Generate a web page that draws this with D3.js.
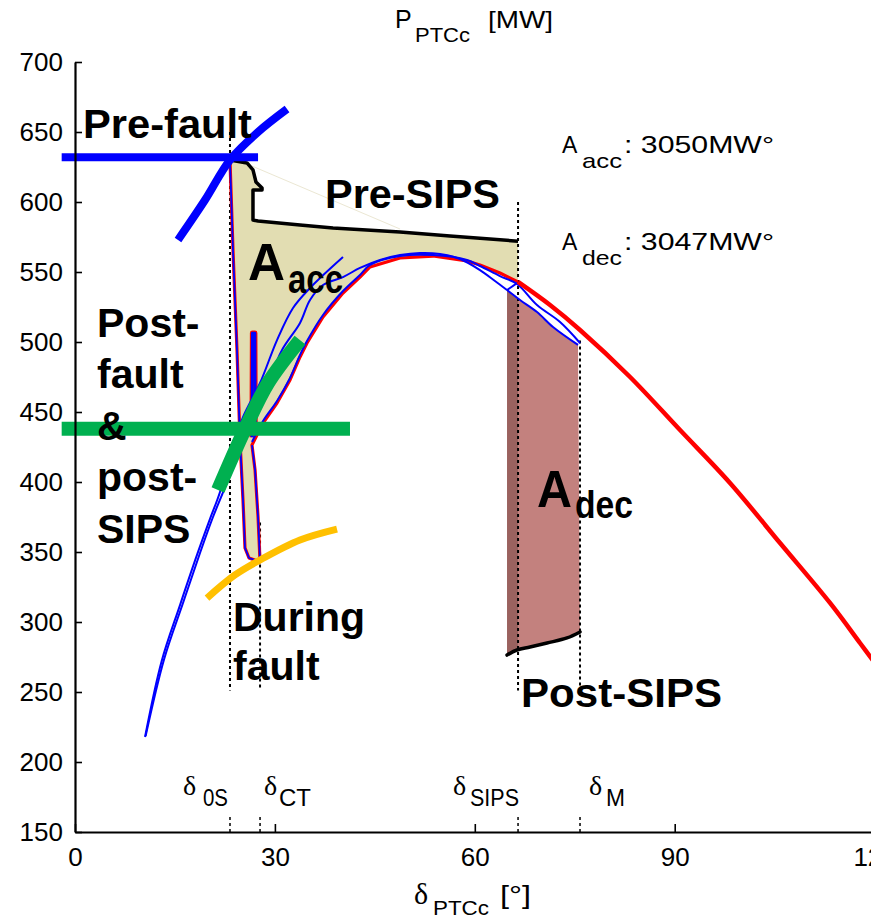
<!DOCTYPE html>
<html><head><meta charset="utf-8">
<script src="https://cdn.jsdelivr.net/npm/d3@7"></script>
<style>
html,body{margin:0;padding:0;background:#fff;}
svg{display:block;}
text{font-family:"Liberation Sans",Arial,Helvetica,sans-serif;fill:#000;}
</style></head><body>
<svg id="chart" width="871" height="918"></svg>
<script>
// ---- axis ticks ----
const xTicks = [0, 30, 60, 90, 120];
const yTicks = [150, 200, 250, 300, 350, 400, 450, 500, 550, 600, 650, 700];

// ---- characteristic angles [deg] ----
const markNames = ["0S", "CT", "SIPS", "M"];
const markAngles = [23.26, 27.77, 66.49, 75.79];
const markTops = [650, 371, 600, 501];     // MW where each dotted guide starts
const markBottom = 251;

// ---- P-delta curves: [delta deg, P MW] ----
const preFaultLevel = [[-2, 632], [27.47, 632]];
const preFaultCurve = [[15.46, 572.9], [19.51, 601.4], [23.26, 630], [27.47, 650], [31.82, 666.4]];
const postFaultLevel = [[-2, 438], [41.27, 438]];
const postFaultCurve = [[21.46, 394.3], [25.51, 437.9], [28.97, 470.7], [33.77, 501.4]];
const duringFaultCurve = [[19.81, 317.1], [24.01, 333.6], [27.77, 344.3], [33.77, 358.6], [39.32, 366.4]];

const preSIPS = [[23.26, 630], [25.81, 627.9], [26.71, 622.9], [27.16, 614.3], [28.07, 610],
  [28.07, 608.6], [26.71, 608.6], [26.71, 587.1], [27.47, 586.4], [33.77, 583.6], [38.72, 581.4],
  [48.78, 578.6], [56.28, 575.7], [66.49, 572]];
const postSIPS = [[64.84, 276.4], [66.34, 280], [68.29, 282.1], [70.84, 285], [73.84, 288.6], [75.79, 292.9]];
const preSIPSGhost = [[26.56, 625.7], [48.78, 580.7]];

// rotor swing trajectory from fault inception to SIPS action
const faultTraj = [[23.26, 630], [23.71, 565.7], [24.31, 494.3], [24.76, 430], [25.21, 387.1],
  [25.51, 352.9], [26.11, 345.7], [27.77, 342.9], [27.47, 375], [27.02, 408.6], [26.56, 426.4],
  [28.22, 442.1], [30.32, 456.4], [32.27, 472.9], [33.77, 489.3], [34.82, 499.3], [37.22, 517.9],
  [40.22, 535], [42.77, 546.4], [44.27, 553.6], [48.78, 560], [53.73, 561.4], [58.83, 557.9],
  [60.78, 555], [63.78, 549.3], [66.49, 542.9]];
const clearSpike = [[26.56, 432], [26.62, 506.4], [27.0, 506.4], [27.05, 440]];

// post-fault & post-SIPS curve beyond SIPS action
const postFaultTail = [[66.49, 542.9], [71.29, 526.4], [75.79, 508.6], [83.30, 475], [90.80, 437.1],
  [98.30, 399.3], [105.81, 356.4], [113.31, 313.6], [117.81, 285], [120, 271]];

// simulated post-fault trajectories
const blue1 = [[10.51, 217.9], [13.0, 272], [15.76, 312.1], [18.31, 347.9], [20.26, 373.6],
  [21.76, 392.9], [23.26, 419.3], [25.21, 446.4], [27.77, 470.7], [30.32, 501.4], [32.72, 524.3],
  [35.27, 538.6], [40.22, 560.7]];
const blue2 = [[10.6, 218.5], [13.35, 273], [16.21, 313.6], [18.76, 349.3], [20.71, 375],
  [22.36, 394.3], [24.16, 417.1], [26.26, 440.7], [28.52, 465.7], [31.07, 494.3], [33.77, 513.6],
  [35.27, 530], [37.22, 540.7], [40.22, 546.4], [42.77, 552.9], [45.78, 558.6], [48.78, 562.1],
  [51.78, 563.6], [54.78, 562.9], [57.78, 559.3], [60.78, 551.4], [63.03, 543.6], [64.84, 537.1],
  [66.79, 530], [69.34, 521.4], [71.74, 510.7], [75.49, 497.9]];
const blue3 = [[26.56, 428.6], [28.22, 443.6], [30.32, 457.9], [32.27, 474.3], [33.77, 490.7],
  [34.82, 500.7], [37.22, 519.3], [40.22, 536.4], [42.77, 547.9], [44.27, 555], [48.78, 561.4],
  [53.73, 562.1], [58.83, 558.6], [60.78, 554.3], [63.78, 547.1], [66.34, 541.4], [69.34, 526.4],
  [72.79, 514.3], [75.79, 499.3]];
const sipsStep = [[64.84, 537.1], [66.34, 542.1]];

// ---- scales ----
const svg = d3.select("#chart");
const xS = d3.scaleLinear().domain([0, 120]).range([75, 874.6]);
const yS = d3.scaleLinear().domain([150, 700]).range([832, 62]);
const line = d3.line().x(d => xS(d[0])).y(d => yS(d[1]));
const smooth = d3.line().x(d => xS(d[0])).y(d => yS(d[1])).curve(d3.curveCatmullRom.alpha(0.5));

// ---- accelerating area (beige) ----
const accArea = preSIPS.concat(faultTraj.slice().reverse());
svg.append("path").attr("d", line(accArea) + "Z").attr("fill", "#e2ddb2").attr("stroke", "none");

// ---- decelerating area (brown) ----
const decTop = blue2.filter(d => d[0] >= postSIPS[0][0]);
const decArea = postSIPS.concat(decTop.slice().reverse());
svg.append("path").attr("d", line(decArea) + "Z").attr("fill", "#c3817e");
svg.append("clipPath").attr("id", "preSipsClip").append("rect")
  .attr("x", xS(postSIPS[0][0])).attr("y", 0)
  .attr("width", xS(markAngles[2]) - xS(postSIPS[0][0])).attr("height", 918);
svg.append("path").attr("d", line(decArea) + "Z").attr("fill", "#9a625f")
  .attr("clip-path", "url(#preSipsClip)");

// ---- dotted guides at the characteristic angles ----
markAngles.forEach((a, i) => {
  svg.append("line").attr("x1", xS(a)).attr("x2", xS(a))
    .attr("y1", yS(markTops[i])).attr("y2", yS(markBottom))
    .attr("stroke", "#000").attr("stroke-width", 2).attr("stroke-dasharray", "3,3");
  svg.append("line").attr("x1", xS(a)).attr("x2", xS(a))
    .attr("y1", yS(150)).attr("y2", yS(161))
    .attr("stroke", "#000").attr("stroke-width", 1.5).attr("stroke-dasharray", "3,3");
});

// ---- power curves ----
function draw(data, color, width, gen = line, cap = "butt") {
  return svg.append("path").attr("d", gen(data)).attr("fill", "none")
    .attr("stroke", color).attr("stroke-width", width)
    .attr("stroke-linejoin", "round").attr("stroke-linecap", cap);
}
draw(preSIPSGhost, "#ebe7d3", 1);
draw(preSIPS, "#000", 3.5);
draw(postSIPS, "#000", 3.5, smooth, "round");

draw(faultTraj, "#ff0000", 3.2);
draw(faultTraj.slice(0, 11), "#0000ff", 1.8);
draw(clearSpike, "#ff0000", 5);
draw(clearSpike, "#0000ff", 2.8);
draw(blue1, "#0000ff", 2, smooth);
draw(blue2, "#0000ff", 2, smooth);
draw(blue3, "#0000ff", 2, smooth);
draw(sipsStep, "#0000ff", 2);
draw(postFaultTail, "#ff0000", 4.5, smooth);

draw(postFaultLevel, "#00b050", 14);
draw(postFaultCurve, "#00b050", 14, smooth);
draw(preFaultLevel, "#0000ff", 8);
draw(preFaultCurve, "#0000ff", 8, smooth);
draw(duringFaultCurve, "#ffc000", 7, smooth);

// ---- axes ----
const ax = svg.append("g").attr("transform", `translate(0,${yS(150)})`)
  .call(d3.axisBottom(xS).tickValues(xTicks).tickSize(-8).tickSizeOuter(0).tickPadding(16));
const ay = svg.append("g").attr("transform", `translate(${xS(0)},0)`)
  .call(d3.axisLeft(yS).tickValues(yTicks).tickSize(-7).tickSizeOuter(0).tickPadding(12));
[ax, ay].forEach(g => {
  g.attr("font-family", null).attr("font-size", null);
  g.select(".domain").attr("stroke", "#000").attr("stroke-width", 2.2);
  g.selectAll(".tick line").attr("stroke", "#000").attr("stroke-width", 1.6);
  g.selectAll(".tick text").attr("fill", "#000").style("font-size", "26px")
    .style("font-family", '"Liberation Sans",Arial,sans-serif');
});

// ---- text helpers ----
function txt(x, y, s, size, opt = {}) {
  const t = svg.append("text").attr("x", x).attr("y", y).text(s)
    .style("font-size", size + "px");
  if (opt.bold) t.style("font-weight", "bold");
  if (opt.serif) t.style("font-family", '"Liberation Serif","DejaVu Serif",serif');
  if (opt.len) t.attr("textLength", opt.len).attr("lengthAdjust", "spacingAndGlyphs");
  return t;
}

// axis titles
txt(395, 28, "P", 25);
txt(415, 42, "PTCc", 20, {len: 55});
txt(488, 28, "[MW]", 24, {len: 65});
txt(414, 904, "\u03b4", 30, {serif: true});
txt(433, 915, "PTCc", 20, {len: 56});
txt(500, 904, "[\u00b0]", 26, {len: 31});

// angle labels above the x axis
const markLabelX = [183, 264, 453, 589];
const markSubX = [203, 279, 470, 606];
const markSubLen = [25, 32, 49, 19];
markNames.forEach((n, i) => {
  txt(markLabelX[i], 795, "\u03b4", 28, {serif: true});
  txt(markSubX[i], 806, n, 23, {len: markSubLen[i]});
});

// curve names
txt(83, 138, "Pre-fault", 41, {bold: true, len: 169});
txt(325, 208, "Pre-SIPS", 41, {bold: true, len: 175});
const pf = svg.append("text").style("font-size", "41px").style("font-weight", "bold");
["Post-", "fault", "&", "post-", "SIPS"].forEach((s, i) => {
  pf.append("tspan").attr("x", 97).attr("y", 337 + i * 51.4).text(s);
});
const df = svg.append("text").style("font-size", "41px").style("font-weight", "bold");
["During", "fault"].forEach((s, i) => {
  df.append("tspan").attr("x", 233).attr("y", 631 + i * 49).text(s);
});
txt(521, 707, "Post-SIPS", 41, {bold: true, len: 201});

// area names
txt(248, 280, "A", 52, {bold: true, len: 37});
txt(288, 293, "acc", 40, {bold: true, len: 55});
txt(537, 507, "A", 52, {bold: true, len: 35});
txt(575, 518, "dec", 39, {bold: true, len: 58});

// area values
const aAcc = 3050, aDec = 3047;
txt(562, 153, "A", 23);
txt(582, 168, "acc", 21, {len: 40});
txt(624, 153, ": " + aAcc + "MW\u00b0", 24, {len: 150});
txt(562, 250, "A", 23);
txt(582, 265, "dec", 21, {len: 40});
txt(624, 250, ": " + aDec + "MW\u00b0", 24, {len: 150});
</script>
</body></html>
